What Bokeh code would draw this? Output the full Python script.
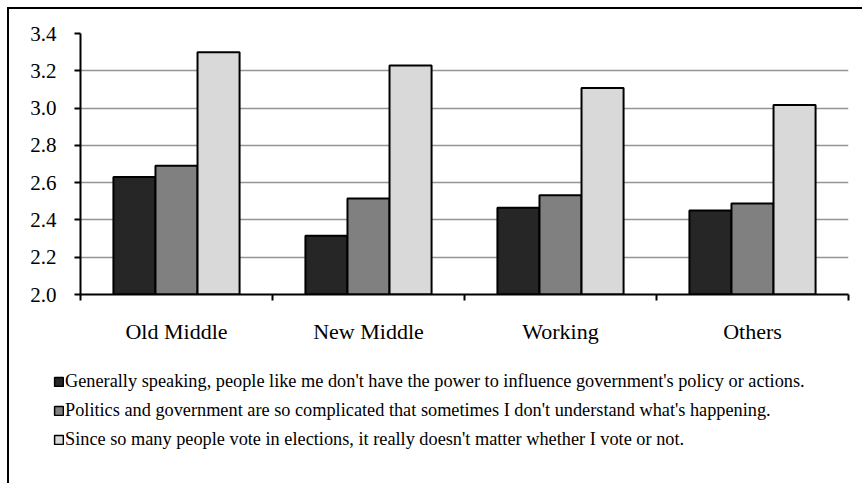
from bokeh.plotting import figure
from bokeh.layouts import column
from bokeh.models import (Range1d, FixedTicker, Legend, LegendItem,
                          NumeralTickFormatter, ColumnDataSource)
from bokeh.transform import dodge
from bokeh.embed import file_html
from bokeh.resources import INLINE

categories = ["Old Middle", "New Middle", "Working", "Others"]
series_labels = [
    "Generally speaking, people like me don't have the power to influence government's policy or actions.",
    "Politics and government are so complicated that sometimes I don't understand what's happening.",
    "Since so many people vote in elections, it really doesn't matter whether I vote or not.",
]
power = [2.63, 2.315, 2.465, 2.45]
complicated = [2.69, 2.515, 2.533, 2.488]
vote = [3.30, 3.228, 3.107, 3.016]
y_ticks = [2.0, 2.2, 2.4, 2.6, 2.8, 3.0, 3.2, 3.4]

colors = ["#262626", "#808080", "#d9d9d9"]
FONT = "Liberation Serif"

n = len(categories)
centers = [i + 0.5 for i in range(n)]
bounds = [float(i) for i in range(n + 1)]

src = ColumnDataSource(dict(idx=centers, power=power, complicated=complicated, vote=vote))

# ---- main chart ----
p = figure(width=853, height=351, x_range=Range1d(0, n), y_range=Range1d(y_ticks[0], y_ticks[-1]),
           output_backend="svg", toolbar_location=None,
           min_border_left=71, min_border_right=14, min_border_top=24, min_border_bottom=66)
p.frame_align = False
p.outline_line_color = None
p.background_fill_color = "white"
p.border_fill_color = "white"

bw = 0.219
keys = ["power", "complicated", "vote"]
offsets = [-bw, 0.0, bw]
for k, off, c in zip(keys, offsets, colors):
    p.vbar(x=dodge("idx", off, range=p.x_range), top=k, bottom=y_ticks[0], width=bw,
           source=src, fill_color=c, line_color="black", line_width=2)

p.xgrid.visible = False
p.ygrid.ticker = FixedTicker(ticks=y_ticks)
p.ygrid.grid_line_color = "#949494"
p.ygrid.grid_line_width = 1.5

ya = p.yaxis[0]
ya.ticker = FixedTicker(ticks=y_ticks)
ya.formatter = NumeralTickFormatter(format="0.0")
ya.axis_line_color = "black"
ya.axis_line_width = 2
ya.major_tick_line_width = 2
ya.major_tick_out = 6
ya.major_tick_in = 0
ya.minor_tick_line_color = None
ya.major_label_text_font = FONT
ya.major_label_text_font_size = "21px"
ya.major_label_text_color = "black"
ya.major_label_standoff = 18

xa = p.xaxis[0]
xa.ticker = FixedTicker(ticks=centers, minor_ticks=bounds)
xa.major_label_overrides = {c: lab for c, lab in zip(centers, categories)}
xa.axis_line_color = "black"
xa.axis_line_width = 2
xa.major_tick_line_color = None
xa.major_tick_out = 0
xa.major_tick_in = 0
xa.minor_tick_line_color = "black"
xa.minor_tick_line_width = 2
xa.minor_tick_out = 6
xa.minor_tick_in = 0
xa.major_label_text_font = FONT
xa.major_label_text_font_size = "22px"
xa.major_label_text_color = "black"
xa.major_label_standoff = 18

# ---- legend panel ----
q = figure(width=853, height=123, x_range=Range1d(0, 1), y_range=Range1d(0, 1),
           output_backend="svg", toolbar_location=None,
           x_axis_type=None, y_axis_type=None,
           min_border_left=44, min_border_right=0, min_border_top=11, min_border_bottom=0)
q.frame_align = False
q.outline_line_color = None
q.grid.visible = False
q.background_fill_color = "white"
q.border_fill_color = "white"

nan = float("nan")
leg_rends = []
for c in colors:
    # placeholder renderer without drawable data: only its legend swatch is seen
    r = q.vbar(x=[nan], top=[nan], bottom=[nan], width=0.1,
               fill_color=c, line_color="black", line_width=1.5)
    leg_rends.append(r)

legend = Legend(items=[LegendItem(label=l, renderers=[r]) for l, r in zip(series_labels, leg_rends)],
                location="top_left", orientation="vertical",
                glyph_width=11, glyph_height=11, label_standoff=1,
                label_height=20, spacing=8, padding=0, margin=0,
                border_line_color=None, background_fill_alpha=0,
                label_text_font=FONT, label_text_font_size="18.3px", label_text_color="black")
q.add_layout(legend, "center")

layout = column(p, q, spacing=0, margin=(7, 0, 0, 7),
                styles={"border-left": "2px solid black", "border-top": "2px solid black"})

open("out.html", "w").write(file_html(layout, INLINE))
